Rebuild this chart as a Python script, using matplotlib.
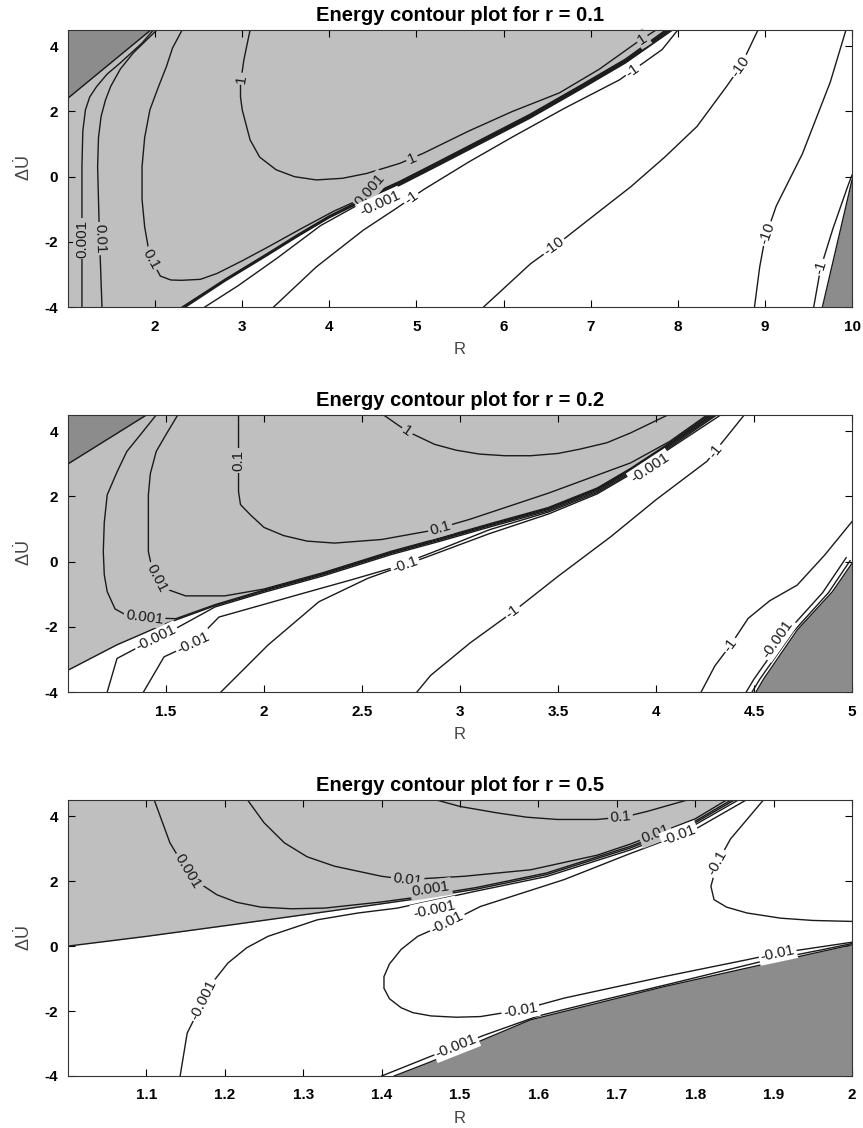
import numpy as np
import matplotlib
matplotlib.use("Agg")
import matplotlib.pyplot as plt

plt.rcParams['font.family'] = ['Liberation Sans', 'DejaVu Sans']
plt.rcParams['axes.unicode_minus'] = False
plt.rcParams['mathtext.fontset'] = 'custom'
plt.rcParams['mathtext.rm'] = 'Liberation Sans'

LIGHT = '#bfbfbf'
DARK = '#8c8c8c'
LINE = '#1a1a1a'

# contour lines: (energy level, R values, dU values)
# ---------------- r = 0.1 ----------------
r1_lines = [
    (0.0, [2.33, 2.8, 3.28, 3.64, 4.0, 4.4, 4.81, 5.25, 5.72, 6.3, 6.87, 7.4, 7.9],
          [-4.0, -3.18, -2.4, -1.8, -1.23, -0.7, -0.2, 0.4, 1.05, 1.85, 2.72, 3.55, 4.5]),
    (0.001, [1.16, 1.16, 1.16, 1.17, 1.2, 1.25, 1.33, 1.45, 1.6, 1.85, 1.98],
            [-4.0, -2.0, 0.31, 1.4, 2.05, 2.45, 2.77, 3.15, 3.49, 4.1, 4.5]),
    (0.01, [1.39, 1.36, 1.34, 1.35, 1.38, 1.43, 1.49, 1.6, 1.75, 2.02],
           [-4.0, -1.74, 0.31, 1.2, 1.85, 2.35, 2.77, 3.3, 3.8, 4.5]),
    (0.01, [2.31, 2.8, 3.28, 3.64, 4.0, 4.4, 4.81, 5.25, 5.72, 6.3, 6.87, 7.4, 7.88],
           [-4.0, -3.15, -2.37, -1.77, -1.2, -0.67, -0.17, 0.43, 1.08, 1.88, 2.75, 3.58, 4.5]),
    (0.1, [2.31, 2.2, 2.13, 2.03, 1.94, 1.88, 1.85, 1.85, 1.88, 1.94, 2.06, 2.18, 2.3, 2.52, 2.71,
           3.0, 3.28, 3.7, 4.05, 4.4, 4.81, 5.25, 5.72, 6.3, 6.87, 7.4, 7.86],
          [4.5, 3.95, 3.38, 2.7, 2.05, 1.2, 0.31, -0.7, -1.54, -2.46, -3.05, -3.17, -3.18, -3.15, -2.97,
           -2.58, -2.18, -1.56, -1.06, -0.64, -0.14, 0.46, 1.11, 1.91, 2.78, 3.61, 4.5]),
    (1.0, [3.09, 3.02, 2.98, 2.98, 3.0, 3.09, 3.2, 3.39, 3.6, 3.85, 4.15, 4.43, 4.81, 5.08, 5.6, 6.1,
           6.64, 7.1, 7.52, 7.75],
          [4.5, 3.6, 2.87, 2.45, 2.05, 1.13, 0.6, 0.21, 0.0, -0.1, -0.05, 0.1, 0.41, 0.72, 1.4, 2.0,
           2.57, 3.3, 4.1, 4.5]),
    (-0.01, [2.35, 2.8, 3.28, 3.64, 4.0, 4.4, 4.81, 5.25, 5.72, 6.3, 6.87, 7.4, 7.92],
            [-4.0, -3.21, -2.43, -1.83, -1.26, -0.73, -0.23, 0.37, 1.02, 1.82, 2.69, 3.52, 4.5]),
    (-0.1, [2.57, 2.95, 3.4, 3.9, 4.4, 4.81, 5.25, 5.72, 6.3, 6.87, 7.4, 7.94],
           [-4.0, -3.35, -2.5, -1.5, -0.76, -0.26, 0.34, 0.99, 1.79, 2.66, 3.49, 4.5]),
    (-1.0, [3.36, 3.85, 4.39, 4.77, 5.08, 5.6, 6.11, 6.7, 7.33, 7.82, 8.0],
           [-4.0, -2.77, -1.64, -0.97, -0.4, 0.45, 1.23, 2.1, 2.97, 3.9, 4.5]),
    (-1.0, [9.56, 9.64, 9.78, 9.95, 10.0], [-4.0, -2.8, -1.6, -0.3, 0.05]),
    (-10.0, [5.77, 6.31, 6.58, 7.0, 7.46, 7.85, 8.22, 8.56, 8.72, 8.92],
            [-4.0, -2.67, -2.15, -1.27, -0.31, 0.6, 1.54, 2.77, 3.38, 4.5]),
    (-10.0, [9.93, 9.75, 9.43, 9.13, 9.0, 8.94, 8.88], [4.5, 2.9, 0.7, -0.9, -1.9, -2.77, -4.0]),
]
r1_dark_top_R, r1_dark_top_U = [1.0, 1.95], [2.41, 4.5]
r1_dark_bot_R, r1_dark_bot_U = [9.66, 10.0], [-4.0, -0.1]
# label value, R, dU, keep the spot as read (True) or put it on the line (False)
r1_labels = [(0.001, 1.16, -1.9, False), (0.01, 1.36, -1.9, False), (0.1, 1.9, -2.6, False),
             (1, 3.0, 3.0, False), (1, 4.95, 0.55, False), (1, 7.6, 4.2, False),
             (0.001, 4.47, -0.41, True), (-0.001, 4.58, -0.82, True), (-1, 4.95, -0.7, False),
             (-1, 7.5, 3.2, False), (-10, 6.58, -2.15, False), (-10, 8.72, 3.38, False),
             (-10, 9.02, -1.74, False), (-1, 9.64, -2.77, False)]

# ---------------- r = 0.2 ----------------
r2_lines = [
    (0.0, [1.0, 1.25, 1.5, 1.75, 2.0, 2.3, 2.65, 2.9, 3.15, 3.45, 3.7, 3.87, 4.07, 4.29],
          [-3.33, -2.55, -1.9, -1.35, -0.9, -0.4, 0.26, 0.67, 1.1, 1.6, 2.2, 2.8, 3.59, 4.5]),
    (0.001, [1.45, 1.37, 1.3, 1.25, 1.2, 1.185, 1.18, 1.185, 1.2, 1.24, 1.3, 1.39, 1.55, 1.75, 2.0,
             2.3, 2.65, 2.9, 3.15, 3.45, 3.7, 3.87, 4.07, 4.28],
            [4.5, 3.9, 3.38, 2.75, 2.05, 1.2, 0.31, -0.4, -0.92, -1.45, -1.65, -1.72, -1.75, -1.32, -0.87,
             -0.37, 0.29, 0.7, 1.13, 1.63, 2.23, 2.83, 3.62, 4.5]),
    (0.01, [1.56, 1.5, 1.45, 1.42, 1.41, 1.41, 1.43, 1.46, 1.52, 1.6, 1.8, 2.0, 2.3, 2.65, 2.9, 3.15,
            3.45, 3.7, 3.87, 4.07, 4.27],
           [4.5, 3.9, 3.38, 2.7, 2.05, 0.31, -0.25, -0.6, -0.88, -1.05, -1.05, -0.84, -0.34, 0.32, 0.73,
            1.16, 1.66, 2.26, 2.86, 3.65, 4.5]),
    (0.1, [1.87, 1.87, 1.88, 1.93, 2.0, 2.1, 2.22, 2.36, 2.6, 2.85, 3.05, 3.45, 3.87, 4.07, 4.26],
          [4.5, 2.15, 1.75, 1.44, 1.05, 0.8, 0.63, 0.57, 0.68, 0.95, 1.3, 2.1, 3.03, 3.69, 4.5]),
    (1.0, [2.61, 2.73, 2.87, 2.98, 3.1, 3.23, 3.36, 3.5, 3.61, 3.75, 3.87, 4.06],
          [4.5, 4.0, 3.6, 3.42, 3.3, 3.25, 3.25, 3.32, 3.45, 3.65, 3.95, 4.5]),
    (-0.001, [1.2, 1.25, 1.36, 1.52, 1.75, 2.0, 2.3, 2.65, 2.9, 3.15, 3.45, 3.7, 3.87, 4.07, 4.3],
             [-4.0, -2.97, -2.62, -2.15, -1.39, -0.94, -0.44, 0.22, 0.63, 1.06, 1.56, 2.16, 2.76, 3.55, 4.5]),
    (-0.01, [1.385, 1.49, 1.64, 1.77, 2.0, 2.2, 2.45, 2.65, 2.9, 3.15, 3.45, 3.7, 3.87, 4.07, 4.31],
            [-4.0, -2.92, -2.5, -1.7, -1.31, -0.97, -0.55, -0.2, 0.38, 0.98, 1.52, 2.12, 2.72, 3.51, 4.5]),
    (-0.1, [1.78, 2.02, 2.28, 2.53, 2.72, 2.9, 3.15, 3.45, 3.7, 3.87, 4.07, 4.33],
           [-4.0, -2.56, -1.23, -0.51, -0.1, 0.3, 0.86, 1.46, 2.08, 2.68, 3.47, 4.5]),
    (-1.0, [2.78, 2.85, 3.05, 3.27, 3.5, 3.77, 4.0, 4.26, 4.45],
           [-4.0, -3.49, -2.5, -1.54, -0.45, 0.77, 1.9, 3.08, 4.5]),
    (-1.0, [4.23, 4.3, 4.38, 4.47, 4.58, 4.72, 4.86, 5.0], [-4.0, -3.2, -2.56, -1.74, -1.2, -0.72, 0.2, 1.23]),
    (-0.1, [4.46, 4.5, 4.67, 4.85, 4.97], [-4.0, -3.6, -2.15, -0.95, 0.12]),
    (-0.001, [4.49, 4.53, 4.7, 4.88, 4.99], [-4.0, -3.6, -2.15, -0.95, 0.03]),
]
r2_dark_top_R, r2_dark_top_U = [1.0, 1.40], [3.0, 4.5]
r2_dark_bot_R = [4.51, 4.55, 4.72, 4.9, 5.0]
r2_dark_bot_U = [-4.0, -3.59, -2.1, -0.92, -0.05]
r2_labels = [(0.1, 1.87, 3.1, False), (1, 2.73, 4.0, False), (0.01, 1.45, -0.5, False),
             (0.001, 1.39, -1.72, False), (0.1, 2.9, 1.0, False), (-0.001, 1.45, -2.35, False),
             (-0.01, 1.64, -2.5, False), (-0.1, 2.72, -0.1, False), (-0.001, 3.97, 2.87, True),
             (-1, 4.29, 3.44, False), (-1, 3.27, -1.54, False), (-1, 4.38, -2.56, False),
             (-0.001, 4.62, -2.36, True)]

# ---------------- r = 0.5 ----------------
r3_lines = [
    (0.0, [1.0, 1.1, 1.21, 1.335, 1.437, 1.52, 1.61, 1.717, 1.8, 1.85],
          [0.0, 0.3, 0.66, 1.08, 1.43, 1.75, 2.2, 3.02, 3.8, 4.5]),
    (0.001, [1.11, 1.13, 1.152, 1.17, 1.19, 1.215, 1.246, 1.285, 1.327, 1.4, 1.437, 1.52, 1.61, 1.717, 1.8, 1.846],
            [4.5, 3.18, 2.3, 1.9, 1.58, 1.35, 1.2, 1.15, 1.17, 1.36, 1.48, 1.8, 2.25, 3.07, 3.85, 4.5]),
    (0.01, [1.229, 1.25, 1.276, 1.305, 1.34, 1.4, 1.433, 1.505, 1.59, 1.675, 1.717, 1.8, 1.84],
           [4.5, 3.8, 3.18, 2.75, 2.46, 2.15, 2.05, 2.15, 2.35, 2.8, 3.14, 3.92, 4.5]),
    (0.1, [1.47, 1.5, 1.548, 1.585, 1.624, 1.675, 1.71, 1.739, 1.79], [4.5, 4.3, 4.1, 3.97, 3.9, 3.9, 3.98, 4.15, 4.5]),
    (-0.001, [1.143, 1.152, 1.173, 1.185, 1.204, 1.228, 1.255, 1.318, 1.37, 1.42, 1.52, 1.61, 1.717, 1.8, 1.855],
             [-4.0, -2.68, -1.66, -1.1, -0.52, -0.05, 0.3, 0.81, 1.02, 1.17, 1.69, 2.14, 2.96, 3.74, 4.5]),
    (-0.01, [1.865, 1.8, 1.717, 1.633, 1.526, 1.484, 1.446, 1.425, 1.41, 1.403, 1.403, 1.41, 1.425,
             1.44, 1.463, 1.495, 1.526, 1.577, 1.633, 1.7, 1.76, 1.866, 1.905, 2.0],
            [4.5, 3.6, 2.85, 2.05, 1.22, 0.71, 0.3, -0.1, -0.55, -0.94, -1.3, -1.62, -1.9,
             -2.05, -2.15, -2.19, -2.17, -1.97, -1.6, -1.25, -0.94, -0.42, -0.22, 0.12]),
    (-0.1, [1.887, 1.845, 1.828, 1.82, 1.824, 1.84, 1.866, 1.909, 1.95, 2.0],
           [4.5, 3.3, 2.56, 1.84, 1.43, 1.2, 1.02, 0.86, 0.79, 0.76]),
    (-0.001, [1.4, 1.46, 1.53, 1.6, 1.68, 1.77, 1.88, 1.96, 2.0],
             [-4.0, -3.42, -2.75, -2.15, -1.67, -1.15, -0.5, -0.12, 0.08]),
]
r3_dark_bot_R = [1.416, 1.463, 1.59, 1.67, 1.76, 1.88, 2.0]
r3_dark_bot_U = [-4.0, -3.56, -2.27, -1.79, -1.25, -0.6, 0.04]
r3_labels = [(0.001, 1.152, 2.3, False), (0.01, 1.433, 2.05, False), (0.001, 1.463, 1.76, True),
             (-0.001, 1.467, 1.14, True), (-0.01, 1.484, 0.71, False), (0.1, 1.705, 3.9, False),
             (0.01, 1.75, 3.4, False), (-0.01, 1.78, 3.4, False), (-0.1, 1.828, 2.56, False),
             (-0.001, 1.173, -1.66, False), (-0.01, 1.577, -1.97, False),
             (-0.01, 1.905, -0.22, False), (-0.001, 1.492, -2.9, False)]


def nearest_on(ax, lines, val, x, y):
    trans = ax.transData
    p = trans.transform((x, y))
    best = None
    for lev, Rs, Us in lines:
        if lev != val:
            continue
        pts = trans.transform(np.c_[Rs, Us])
        for a, b in zip(pts[:-1], pts[1:]):
            d = b - a
            t = np.clip(np.dot(p - a, d) / np.dot(d, d), 0, 1)
            q = a + t * d
            dist = np.hypot(*(p - q))
            if best is None or dist < best[0]:
                best = (dist, q, d)
    return best


def panel(ax, lines, rlim, xticks, title, dark_top=None, dark_bot=None, labels=()):
    ax.set_xlim(*rlim)
    ax.set_ylim(-4, 4.5)

    zero = [l for l in lines if l[0] == 0.0][0]
    ax.fill_betweenx(zero[2], rlim[0], zero[1], color=LIGHT, lw=0, zorder=0.5)
    for lev, Rs, Us in lines:
        ax.plot(Rs, Us, color=LINE, lw=1.0, solid_joinstyle='round', zorder=2)

    if dark_top is not None:
        ax.fill_between(dark_top[0], dark_top[1], 4.5, color=DARK, lw=0, zorder=3)
        ax.plot(dark_top[0], dark_top[1], color=LINE, lw=1.0, zorder=3.5)
    if dark_bot is not None:
        ax.fill_betweenx(dark_bot[1], dark_bot[0], rlim[1], color=DARK, lw=0, zorder=3)
        ax.plot(dark_bot[0], dark_bot[1], color=LINE, lw=1.0, zorder=3.5)

    inv = ax.transData.inverted()
    for val, lx, ly, keep in labels:
        best = nearest_on(ax, lines, val, lx, ly)
        if best is None or keep:
            ref = nearest_on(ax, lines, 0.0, lx, ly)
            d = ref[2] if best is None else best[2]
            px, py = lx, ly
        else:
            d = best[2]
            px, py = inv.transform(best[1])
        ang = np.degrees(np.arctan2(d[1], d[0]))
        if ang > 90:
            ang -= 180
        elif ang <= -90:
            ang += 180
        ax.text(px, py, '%g' % val, rotation=ang, rotation_mode='anchor', ha='center',
                va='center', fontsize=11, color=LINE, zorder=4,
                bbox=dict(boxstyle='square,pad=0.12', fc=LIGHT if val > 0 else 'white', ec='none'))

    ax.set_xticks(xticks, labels=['%g' % t for t in xticks], fontweight='bold', fontsize=11)
    ax.set_yticks([-4, -2, 0, 2, 4], labels=['-4', '-2', '0', '2', '4'], fontweight='bold', fontsize=11)
    ax.tick_params(direction='in', top=True, right=True, length=5, width=0.8, pad=7)
    ax.tick_params(axis='x', pad=9)
    for sp in ax.spines.values():
        sp.set_color('#333333')
        sp.set_linewidth(0.8)
        sp.set_zorder(5)
    ax.set_title(title, fontweight='bold', fontsize=14.5, pad=6.5)
    ax.set_xlabel('R', fontsize=12, color='#444444', labelpad=6)
    ax.set_ylabel(r'$\Delta\dot{\mathrm{U}}$', fontsize=13, color='#444444', labelpad=8)


fig = plt.figure(figsize=(8.63, 11.28), dpi=100)
ax1 = fig.add_axes([0.0788, 0.7278, 0.9085, 0.2456])
ax2 = fig.add_axes([0.0788, 0.3865, 0.9085, 0.2456])
ax3 = fig.add_axes([0.0788, 0.0461, 0.9085, 0.2447])

panel(ax1, r1_lines, (1, 10), list(range(2, 11)), 'Energy contour plot for r = 0.1',
      dark_top=(r1_dark_top_R, r1_dark_top_U), dark_bot=(r1_dark_bot_R, r1_dark_bot_U),
      labels=r1_labels)
panel(ax2, r2_lines, (1, 5), [1.5, 2, 2.5, 3, 3.5, 4, 4.5, 5], 'Energy contour plot for r = 0.2',
      dark_top=(r2_dark_top_R, r2_dark_top_U), dark_bot=(r2_dark_bot_R, r2_dark_bot_U),
      labels=r2_labels)
panel(ax3, r3_lines, (1, 2), [1.1, 1.2, 1.3, 1.4, 1.5, 1.6, 1.7, 1.8, 1.9, 2.0],
      'Energy contour plot for r = 0.5', dark_bot=(r3_dark_bot_R, r3_dark_bot_U),
      labels=r3_labels)

fig.savefig('out.png', dpi=100)
